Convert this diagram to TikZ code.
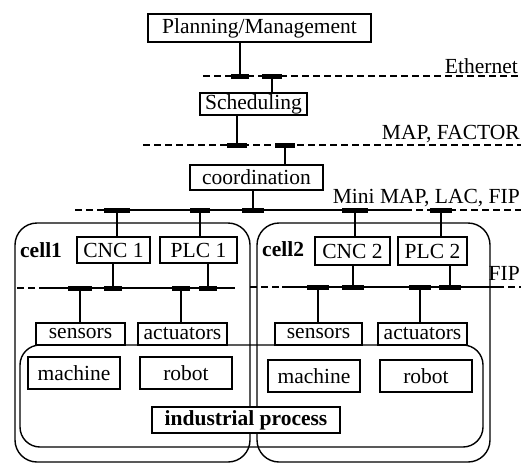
\documentclass[tikz,border=0pt]{standalone}
\usepackage{fontspec}
\setmainfont{Liberation Serif}
\begin{document}
\begin{tikzpicture}[x=1pt,y=-1pt,
  every node/.style={font=\fontsize{21.5}{23}\selectfont, inner sep=0pt},
  box/.style={draw, line width=1.4pt, fill=white},
  cellbox/.style={draw, line width=1.4pt, rounded corners=22pt},
  bus/.style={line width=1.8pt},
  dbus/.style={line width=1.8pt, dash pattern=on 7pt off 4pt},
  vline/.style={line width=2.4pt},
  tapbar/.style={fill=black},
  lbl/.style={font=\fontsize{21.5}{23}\selectfont}]
\useasboundingbox (0,0) rectangle (521,464);

% cells and process
\node[cellbox, minimum width=235pt, minimum height=239pt] (cell1) at (132.5,342.5) {};
\node[cellbox, minimum width=233pt, minimum height=239pt] (cell2) at (373.5,342.5) {};
\node[cellbox, rounded corners=20pt, minimum width=463pt, minimum height=102pt] (proc) at (251.5,396) {};

% boxes
\node[box, minimum width=223pt, minimum height=28pt] (pm) at (259.5,28) {Planning/Management};
\node[box, minimum width=107pt, minimum height=22pt] (sched) at (253.5,104) {Scheduling};
\node[box, minimum width=133pt, minimum height=25pt] (coord) at (256.5,177.5) {coordination};
\node[box, minimum width=73pt, minimum height=26pt] (cnc1) at (113.5,250) {CNC 1};
\node[box, minimum width=77pt, minimum height=26pt] (plc1) at (198.5,250) {PLC 1};
\node[box, minimum width=75pt, minimum height=28pt] (cnc2) at (352.5,251) {CNC 2};
\node[box, minimum width=69pt, minimum height=28pt] (plc2) at (432.5,251) {PLC 2};
\node[box, minimum width=89pt, minimum height=22pt] (sens1) at (80.5,334) {sensors};
\node[box, minimum width=89pt, minimum height=22pt] (act1) at (182.5,334) {actuators};
\node[box, minimum width=87pt, minimum height=22pt] (sens2) at (318.5,334) {sensors};
\node[box, minimum width=89pt, minimum height=22pt] (act2) at (422.5,334) {actuators};
\node[box, minimum width=92pt, minimum height=32pt] (mach1) at (74,373) {machine};
\node[box, minimum width=92pt, minimum height=32pt] (rob1) at (186,373) {robot};
\node[box, minimum width=92pt, minimum height=32pt] (mach2) at (314,376) {machine};
\node[box, minimum width=92pt, minimum height=32pt] (rob2) at (426,376) {robot};
\node[box, minimum width=188pt, minimum height=26pt, font=\fontsize{21.5}{23}\selectfont\bfseries] (ind) at (246,420) {industrial process};

% labels
\node[anchor=base west, font=\fontsize{21.5}{23}\selectfont\bfseries] (c1lbl) at (20,257) {cell1};
\node[anchor=base west, font=\fontsize{21.5}{23}\selectfont\bfseries] (c2lbl) at (262,256) {cell2};
\node[lbl, anchor=base east] (ethl) at (518,73) {Ethernet};
\node[lbl, anchor=base east] (mapl) at (520,139) {MAP, FACTOR};
\node[lbl, anchor=base east] (minil) at (520,203) {Mini MAP, LAC, FIP};
\node[lbl, anchor=base east] (fipl) at (520,280) {FIP};

% bus coordinates
\coordinate (ethA) at (203,76);  \coordinate (ethB) at (521,76);
\coordinate (mapA) at (143,145); \coordinate (mapB) at (521,145);
\coordinate (miniA) at (75,210); \coordinate (miniS) at (105,210); \coordinate (miniE) at (405,210); \coordinate (miniB) at (521,210);
\coordinate (f1A) at (17,288); \coordinate (f1S) at (42,288); \coordinate (f1E) at (235,288);
\coordinate (f2A) at (250,287); \coordinate (f2S) at (282,287); \coordinate (f2E) at (497,287); \coordinate (f2B) at (521,287);

% buses
\draw[dbus] (ethA) -- (ethB);
\draw[dbus] (mapA) -- (mapB);
\draw[dbus] (miniA) -- (miniS);
\draw[bus] (miniS) -- (miniE);
\draw[dbus] (miniE) -- (miniB);
\draw[dbus] (f1A) -- (f1S);
\draw[bus] (f1S) -- (f1E);
\draw[dbus] (f2A) -- (f2S);
\draw[bus] (f2S) -- (f2E);
\draw[dbus] (f2E) -- (f2B);

% tap points
\coordinate (tPM) at (240,76);  \coordinate (tSc) at (272,76);
\coordinate (tSc2) at (237,145); \coordinate (tCo) at (285,145);
\coordinate (tCo2) at (253,210); \coordinate (tC1) at (117,210); \coordinate (tP1) at (200,210);
\coordinate (tC2) at (355,210); \coordinate (tP2) at (441,210);
\coordinate (uC1) at (113,288); \coordinate (uP1) at (208,288);
\coordinate (uS1) at (80,288);  \coordinate (uA1) at (181,288);
\coordinate (uC2) at (353,287); \coordinate (uP2) at (450,287);
\coordinate (uS2) at (318,287); \coordinate (uA2) at (420,287);

% verticals
\draw[vline] (pm.south -| tPM) -- (tPM);
\draw[vline] (tSc) -- (sched.north -| tSc);
\draw[vline] (sched.south -| tSc2) -- (tSc2);
\draw[vline] (tCo) -- (coord.north -| tCo);
\draw[vline] (coord.south -| tCo2) -- (tCo2);
\draw[vline] (tC1) -- (cnc1.north -| tC1);
\draw[vline] (tP1) -- (plc1.north -| tP1);
\draw[vline] (tC2) -- (cnc2.north -| tC2);
\draw[vline] (tP2) -- (plc2.north -| tP2);
\draw[vline] (cnc1.south -| uC1) -- (uC1);
\draw[vline] (plc1.south -| uP1) -- (uP1);
\draw[vline] (uS1) -- (sens1.north -| uS1);
\draw[vline] (uA1) -- (act1.north -| uA1);
\draw[vline] (cnc2.south -| uC2) -- (uC2);
\draw[vline] (plc2.south -| uP2) -- (uP2);
\draw[vline] (uS2) -- (sens2.north -| uS2);
\draw[vline] (uA2) -- (act2.north -| uA2);

% tap bars
\foreach \c/\w in {tPM/9,tSc/10,tSc2/10,tCo/10,tCo2/11,tC1/13,tP1/10,tC2/13,tP2/11,uC1/9,uP1/9,uS1/12,uA1/9,uC2/11,uP2/11,uS2/11,uA2/11}
  \fill[tapbar] ([xshift=-\w pt, yshift=-2.5pt]\c) rectangle ([xshift=\w pt, yshift=2.5pt]\c);
\end{tikzpicture}
\end{document}
